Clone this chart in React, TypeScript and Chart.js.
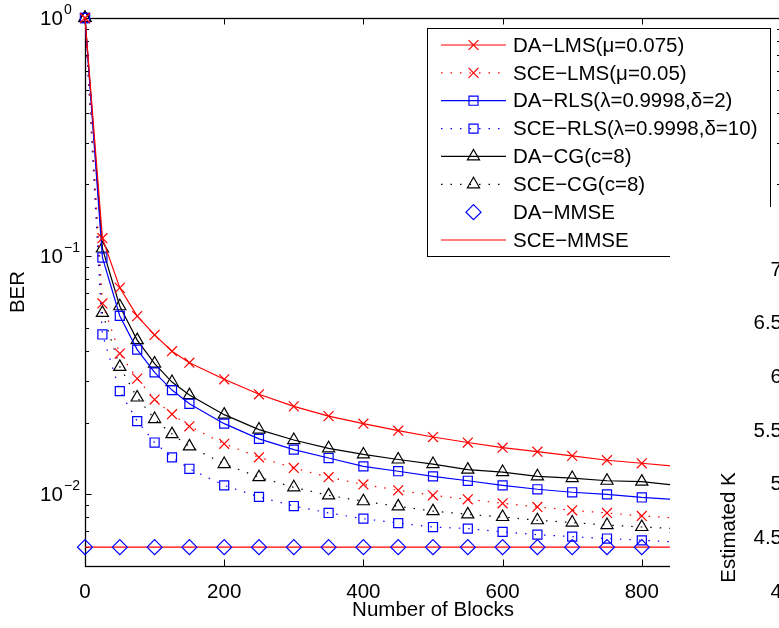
import React, { useEffect, useRef } from 'react';
import { Chart, registerables } from 'chart.js';
import { drawPoint } from 'chart.js/helpers';

Chart.register(...registerables);

const FONT_FAMILY = '"Liberation Sans", Arial, Helvetica, sans-serif';
const FONT_SIZE = 20.5;

// ---- data ----
const blocks = [0, 25, 50, 75, 100, 125, 150, 200, 250, 300, 350, 400, 450, 500, 550, 600, 650, 700, 750, 800, 850];
const daLms = [1, 0.119, 0.0736, 0.056, 0.0467, 0.0399, 0.0357, 0.0304, 0.0263, 0.0234, 0.0213, 0.0198, 0.0185, 0.0174, 0.0165, 0.0157, 0.0151, 0.0145, 0.0139, 0.0135, 0.0131];
const sceLms = [1, 0.0633, 0.039, 0.0306, 0.025, 0.0217, 0.0193, 0.0163, 0.0143, 0.0129, 0.0118, 0.011, 0.0104, 0.0099, 0.00953, 0.00917, 0.00885, 0.00857, 0.00835, 0.00811, 0.00795];
const daRls = [1, 0.0987, 0.0561, 0.0405, 0.0325, 0.0274, 0.024, 0.0198, 0.0171, 0.0154, 0.0142, 0.0131, 0.0125, 0.0119, 0.0114, 0.0109, 0.0105, 0.0102, 0.01, 0.0097, 0.0095];
const sceRls = [1, 0.0469, 0.0271, 0.0203, 0.0165, 0.0143, 0.0128, 0.0109, 0.00975, 0.00893, 0.00835, 0.0079, 0.00757, 0.00729, 0.00718, 0.00695, 0.00677, 0.00664, 0.00652, 0.00641, 0.0063];
const daCg = [1, 0.1077, 0.0616, 0.0444, 0.0354, 0.0296, 0.0261, 0.0216, 0.0187, 0.0169, 0.0156, 0.0147, 0.014, 0.0134, 0.0127, 0.0124, 0.0119, 0.0117, 0.0114, 0.0113, 0.0109];
const sceCg = [1, 0.0578, 0.0343, 0.0255, 0.0207, 0.0179, 0.0159, 0.0134, 0.0118, 0.0107, 0.0099, 0.00935, 0.0089, 0.0085, 0.00824, 0.00803, 0.00778, 0.00761, 0.00743, 0.00729, 0.00718];
const mmseBlocks = [0, 50, 100, 150, 200, 250, 300, 350, 400, 450, 500, 550, 600, 650, 700, 750, 800];
const daMmse = [0.006, 0.006, 0.006, 0.006, 0.006, 0.006, 0.006, 0.006, 0.006, 0.006, 0.006, 0.006, 0.006, 0.006, 0.006, 0.006, 0.006];
const sceMmseBlocks = [0, 850];
const sceMmse = [0.006, 0.006];

const seriesLabels = [
  'DA\u2212LMS(\u03bc=0.075)',
  'SCE\u2212LMS(\u03bc=0.05)',
  'DA\u2212RLS(\u03bb=0.9998,\u03b4=2)',
  'SCE\u2212RLS(\u03bb=0.9998,\u03b4=10)',
  'DA\u2212CG(c=8)',
  'SCE\u2212CG(c=8)',
  'DA\u2212MMSE',
  'SCE\u2212MMSE',
];

const xTicks = [0, 200, 400, 600, 800, 1000];
const yTickValues = [0.01, 0.1, 1];
const yTickExponents = ['\u22122', '\u22121', '0'];
const kTickMin = 2.2;
const kTickMax = 7;

const RED = '#ff0000';
const BLUE = '#0000ff';
const BLACK = '#000000';

const pts = (xs: number[], ys: number[]) => xs.map((x, i) => ({ x, y: ys[i] }));

const axesPlugin = {
  id: 'matlabAxes',
  beforeDatasetsDraw(chart: any) {
    const { ctx, chartArea: a, scales } = chart;
    const x = scales.x;
    const y = scales.y;
    ctx.save();
    ctx.strokeStyle = '#000';
    ctx.lineWidth = 1;
    ctx.beginPath();
    x.ticks.forEach((t: any) => {
      const px = Math.round(x.getPixelForValue(t.value)) + 0.5;
      ctx.moveTo(px, a.bottom);
      ctx.lineTo(px, a.bottom - 6.5);
      ctx.moveTo(px, a.top);
      ctx.lineTo(px, a.top + 6.5);
    });
    for (let k = -3; k <= 0; k++) {
      for (let m = 1; m <= 9; m++) {
        const v = m * Math.pow(10, k);
        if (v < y.min - 1e-12 || v > y.max + 1e-12) continue;
        const py = Math.round(y.getPixelForValue(v)) + 0.5;
        const len = m === 1 ? 6.5 : 4;
        ctx.moveTo(a.left, py);
        ctx.lineTo(a.left + len, py);
        ctx.moveTo(a.right, py);
        ctx.lineTo(a.right - len, py);
      }
    }
    ctx.stroke();
    ctx.lineWidth = 1.3;
    ctx.strokeRect(Math.round(a.left) + 0.5, Math.round(a.top) + 0.5, Math.round(a.right - a.left), Math.round(a.bottom - a.top));
    // y tick labels 10^k
    ctx.fillStyle = '#000';
    ctx.textBaseline = 'middle';
    ctx.textAlign = 'left';
    yTickValues.forEach((v, i) => {
      const py = y.getPixelForValue(v);
      ctx.font = `${FONT_SIZE}px ${FONT_FAMILY}`;
      ctx.fillText('10', 40, py + 1);
      ctx.font = `14px ${FONT_FAMILY}`;
      ctx.fillText(yTickExponents[i], 64, py - 8);
    });
    ctx.restore();
  },
  afterDraw(chart: any) {
    const { ctx, chartArea: a } = chart;
    const w = 343;
    const h = 228;
    const right = a.right - 11;
    const top = a.top + 10;
    const left = right - w;
    ctx.save();
    ctx.fillStyle = '#fff';
    ctx.fillRect(left, top, w, h);
    ctx.strokeStyle = '#000';
    ctx.lineWidth = 1;
    ctx.strokeRect(Math.round(left) + 0.5, Math.round(top) + 0.5, w, h);
    chart.data.datasets.forEach((ds: any, i: number) => {
      const yy = top + 17 + i * 27.86;
      if (ds.showLine !== false) {
        ctx.beginPath();
        ctx.setLineDash(ds.borderDash || []);
        ctx.strokeStyle = ds.borderColor;
        ctx.lineWidth = ds.borderWidth;
        ctx.moveTo(left + 14, yy);
        ctx.lineTo(left + 79, yy);
        ctx.stroke();
        ctx.setLineDash([]);
      }
      if (ds.pointRadius > 0) {
        ctx.strokeStyle = ds.pointBorderColor;
        ctx.fillStyle = 'rgba(0,0,0,0)';
        ctx.lineWidth = ds.pointBorderWidth;
        drawPoint(ctx, { pointStyle: ds.pointStyle, radius: ds.pointRadius, borderWidth: ds.pointBorderWidth, rotation: 0 } as any, left + 46.5, yy);
      }
      ctx.fillStyle = '#000';
      ctx.font = `${FONT_SIZE}px ${FONT_FAMILY}`;
      ctx.textBaseline = 'middle';
      ctx.textAlign = 'left';
      ctx.fillText(ds.label, left + 86, yy + 1);
    });
    ctx.restore();
  },
};

export default function App() {
  const mainRef = useRef<HTMLCanvasElement>(null);
  const sideRef = useRef<HTMLCanvasElement>(null);

  useEffect(() => {
    document.body.style.margin = '0';
    Chart.defaults.font.family = FONT_FAMILY;
    const font = { size: FONT_SIZE, family: FONT_FAMILY };

    const base = { borderWidth: 1.2, pointBorderWidth: 1.2, backgroundColor: 'rgba(0,0,0,0)', pointBackgroundColor: 'rgba(0,0,0,0)', clip: false as any, tension: 0 };
    const dotted = [1.5, 8];

    const datasets: any[] = [
      { ...base, label: seriesLabels[0], data: pts(blocks, daLms), borderColor: RED, pointBorderColor: RED, pointStyle: 'crossRot', pointRadius: 7 },
      { ...base, label: seriesLabels[1], data: pts(blocks, sceLms), borderColor: RED, pointBorderColor: RED, pointStyle: 'crossRot', pointRadius: 7, borderDash: dotted },
      { ...base, label: seriesLabels[2], data: pts(blocks, daRls), borderColor: BLUE, pointBorderColor: BLUE, pointStyle: 'rect', pointRadius: 6.4 },
      { ...base, label: seriesLabels[3], data: pts(blocks, sceRls), borderColor: BLUE, pointBorderColor: BLUE, pointStyle: 'rect', pointRadius: 6.4, borderDash: dotted },
      { ...base, label: seriesLabels[4], data: pts(blocks, daCg), borderColor: BLACK, pointBorderColor: BLACK, pointStyle: 'triangle', pointRadius: 7 },
      { ...base, label: seriesLabels[5], data: pts(blocks, sceCg), borderColor: BLACK, pointBorderColor: BLACK, pointStyle: 'triangle', pointRadius: 7, borderDash: dotted },
      { ...base, label: seriesLabels[6], data: pts(mmseBlocks, daMmse), borderColor: BLUE, pointBorderColor: BLUE, pointStyle: 'rectRot', pointRadius: 7.5, showLine: false },
      { ...base, label: seriesLabels[7], data: pts(sceMmseBlocks, sceMmse), borderColor: RED, pointBorderColor: RED, pointRadius: 0 },
    ];

    const main = new Chart(mainRef.current!, {
      type: 'line',
      data: { datasets },
      options: {
        responsive: false,
        animation: false,
        events: [],
        layout: { padding: { top: 18, right: 59, left: 0, bottom: 0 } },
        plugins: { legend: { display: false }, tooltip: { enabled: false } },
        scales: {
          x: {
            type: 'linear',
            min: 0,
            max: 1000,
            afterBuildTicks: (s: any) => { s.ticks = xTicks.map((v) => ({ value: v })); },
            ticks: { font, color: '#000', padding: 14, maxRotation: 0, autoSkip: false },
            grid: { display: false, drawTicks: false },
            border: { display: false },
            title: { display: true, text: 'Number of Blocks', font, color: '#000', padding: { top: 0, bottom: 5 } },
            afterFit: (s: any) => { s.height = 62; },
          },
          y: {
            type: 'logarithmic',
            min: 0.005,
            max: 1,
            ticks: { display: false },
            grid: { display: false, drawTicks: false },
            border: { display: false },
            title: { display: true, text: 'BER', font, color: '#000', padding: { top: 6, bottom: 0 } },
            afterFit: (s: any) => { s.width = 85; },
          },
        },
      } as any,
      plugins: [axesPlugin],
    });

    const side = new Chart(sideRef.current!, {
      type: 'line',
      data: { datasets: [] },
      options: {
        responsive: false,
        animation: false,
        events: [],
        layout: { padding: { top: 270, bottom: 215, left: 0, right: 0 } },
        plugins: { legend: { display: false }, tooltip: { enabled: false } },
        scales: {
          x: { type: 'linear', display: false, min: 0, max: 1 },
          y: {
            type: 'linear',
            min: kTickMin,
            max: kTickMax,
            ticks: { stepSize: 0.5, font, color: '#000', padding: 3, autoSkip: false, callback: (v: any) => String(Math.round(Number(v) * 10) / 10) },
            grid: { display: false, drawTicks: false },
            border: { display: false },
            title: { display: true, text: 'Estimated K', font, color: '#000', padding: { top: 46.7, bottom: 0 } },
            afterFit: (s: any) => { s.width = 115; },
          },
        },
      } as any,
    });

    return () => {
      main.destroy();
      side.destroy();
    };
  }, []);

  return (
    <div style={{ position: 'relative', width: 779, height: 628, overflow: 'hidden', background: '#fff' }}>
      <canvas ref={mainRef} width={840} height={628} style={{ position: 'absolute', left: 0, top: 0, width: 840, height: 628 }} />
      <div style={{ position: 'absolute', left: 670, top: 207, width: 109, height: 421, background: '#fff', overflow: 'hidden' }}>
        <canvas ref={sideRef} width={200} height={1000} style={{ position: 'absolute', left: 0, top: -207, width: 200, height: 1000 }} />
      </div>
    </div>
  );
}
